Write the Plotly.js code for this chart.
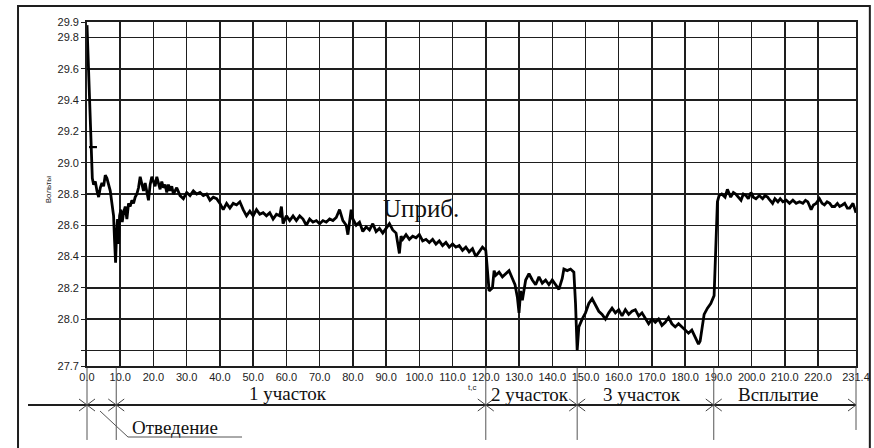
<!DOCTYPE html>
<html>
<head>
<meta charset="utf-8">
<script src="https://cdn.plot.ly/plotly-3.0.1.min.js"></script>
<style>
html,body{margin:0;padding:0;background:#fff;}
#chart{width:874px;height:448px;}
</style>
</head>
<body>
<div id="chart"></div>
<script>
// ---- data ----
const tSec = [
0,0.3,0.7,1.0,1.3,1.6,2.0,2.5,3.0,3.5,4.0,4.5,5.0,5.5,6.0,6.5,7.0,7.5,8.0,8.3,8.6,8.9,9.2,9.5,9.8,
10.2,10.6,11.0,11.5,12.0,12.5,13.0,13.5,14.0,14.5,15.0,15.5,16.0,16.5,17.0,17.5,18.0,18.5,19.0,19.5,
20.0,20.5,21.0,21.5,22.0,22.5,23.0,23.5,24.0,24.5,25.0,25.5,26.0,27,28,29,30,31,32,33,34,35,36,37,38,39,
40,41,42,43,44,45,46,47,48,49,50,51,52,53,54,55,56,57,58,58.5,59,60,61,62,63,64,65,66,67,68,69,
70,71,72,73,74,75,76,77,78,78.5,79,79.5,80,81,82,83,84,85,86,87,88,89,90,91,92,93,94,94.5,95,96,97,98,99,
100,101,102,103,104,105,106,107,108,109,110,111,112,113,114,115,116,117,118,119,120,120.5,121,122,122.5,
123,124,125,126,127,128,128.8,129.5,130,130.5,131,132,133,134,135,136,137,138,139,140,141,142,143,143.5,
144.5,145.5,146.5,147,147.5,148,149,150,151,152,153,154,155,156,157,158,159,160,161,162,163,164,165,166,
167,168,169,170,171,172,173,174,175,176,177,178,179,180,181,182,183,184,184.5,185,185.7,186.7,187.7,188.7,
189.2,189.7,190.2,191,192,192.7,193.7,194.5,195.2,196,196.8,197.5,198.3,199,199.8,200.5,201.3,202.3,203.3,
204,204.8,205.5,206.3,207,207.9,208.6,209.4,210.4,211.4,212.4,213.4,214.4,215.4,216.2,216.9,217.9,218.6,
219.4,220.4,221.2,221.9,222.7,223.5,224.2,225,225.8,226.5,227.3,228,228.8,229.5,230.5,231.4
];
const uVolt = [
29.88,29.70,29.50,29.30,29.05,28.90,28.86,28.88,28.82,28.78,28.84,28.87,28.85,28.92,28.90,28.86,28.82,28.74,28.66,28.50,28.36,28.55,28.64,28.48,28.66,
28.70,28.62,28.68,28.72,28.64,28.74,28.72,28.76,28.74,28.78,28.80,28.84,28.91,28.86,28.82,28.87,28.80,28.76,28.86,28.91,
28.88,28.85,28.91,28.87,28.83,28.88,28.84,28.86,28.81,28.86,28.82,28.85,28.80,28.84,28.79,28.77,28.81,28.79,28.82,28.80,28.81,28.79,28.80,28.76,28.78,28.77,
28.74,28.70,28.74,28.71,28.74,28.73,28.75,28.70,28.66,28.69,28.66,28.70,28.67,28.68,28.66,28.68,28.64,28.67,28.66,28.72,28.61,28.66,28.63,28.66,28.63,28.66,28.64,28.60,28.64,28.62,28.63,
28.61,28.63,28.62,28.64,28.63,28.65,28.70,28.63,28.60,28.54,28.62,28.70,28.64,28.60,28.62,28.56,28.59,28.57,28.61,28.56,28.58,28.55,28.58,28.61,28.57,28.55,28.42,28.53,28.51,28.54,28.51,28.53,28.52,
28.54,28.50,28.51,28.49,28.51,28.48,28.50,28.47,28.49,28.46,28.48,28.46,28.47,28.44,28.46,28.43,28.45,28.40,28.43,28.46,28.44,28.30,28.18,28.20,28.31,
28.28,28.30,28.27,28.29,28.31,28.26,28.22,28.14,28.04,28.18,28.12,28.25,28.29,28.25,28.22,28.27,28.23,28.25,28.22,28.25,28.22,28.19,28.26,28.32,
28.31,28.32,28.30,28.10,27.80,27.95,28.00,28.04,28.10,28.13,28.09,28.05,28.03,28.00,28.04,28.07,28.04,28.06,28.02,28.06,28.03,28.05,28.06,28.02,
28.04,28.00,27.97,28.00,27.98,28.00,27.96,27.98,28.01,27.97,27.95,27.97,27.95,27.93,27.91,27.93,27.88,27.84,27.86,27.93,28.03,28.07,28.10,28.15,
28.44,28.75,28.79,28.80,28.78,28.83,28.78,28.81,28.80,28.78,28.76,28.80,28.79,28.77,28.81,28.78,28.77,28.79,28.77,
28.79,28.78,28.76,28.74,28.77,28.75,28.77,28.75,28.76,28.74,28.76,28.74,28.75,28.74,28.76,28.75,28.70,28.73,
28.74,28.77,28.74,28.73,28.75,28.74,28.72,28.72,28.74,28.72,28.73,28.74,28.71,28.71,28.74,28.68
];
// short reference mark near 29.1 V
const markT = [0.6, 3.0];
const markU = [29.1, 29.1];

const xTickVals = [0,10,20,30,40,50,60,70,80,90,100,110,120,130,140,150,160,170,180,190,200,210,220,231.4];
const xTickText = ['0.0','10.0','20.0','30.0','40.0','50.0','60.0','70.0','80.0','90.0','100.0','110.0','120.0',
                   '130.0','140.0','150.0','160.0','170.0','180.0','190.0','200.0','210.0','220.0','231.4'];
const yTickVals = [27.7,27.8,28.0,28.2,28.4,28.6,28.8,29.0,29.2,29.4,29.6,29.8,29.9];
const yTickText = ['27.7','','28.0','28.2','28.4','28.6','28.8','29.0','29.2','29.4','29.6','29.8','29.9'];

const sectionBounds = [0, 8.8, 120, 147.5, 188.6, 231.4];
const sectionNames = ['Отведение','1 участок','2 участок','3 участок','Всплытие'];
const seriesLabel = 'Uприб.';
const yTitle = 'Вольты';
const xUnit = 't,c';

// ---- layout helpers ----
const X_MAX = 231.4;
const tp = t => t / X_MAX;            // data time -> paper x (range [0, X_MAX] on domain [0,1])
const ink = '#1e1e1e';
const serif = 'Liberation Serif, Times New Roman, serif';
const narrow = 'Liberation Sans Narrow, Arial Narrow, Liberation Sans, Arial, sans-serif';

const lineY = -0.1134, dx = 0.0104, dy = 0.0175;
const shapes = [];
// outer frame
shapes.push({type:'rect', xref:'paper', yref:'paper', x0:-0.0897, x1:1.018, y0:-0.27, y1:1.0465,
             line:{color:ink, width:2}});
// main horizontal dimension line
shapes.push({type:'line', xref:'paper', yref:'paper', x0:-0.0767, x1:tp(X_MAX), y0:lineY, y1:lineY,
             line:{color:ink, width:2}});
sectionBounds.forEach((b, i) => {
  const xb = tp(b);
  const last = i === sectionBounds.length - 1;
  shapes.push({type:'line', xref:'paper', yref:'paper', x0:xb, x1:xb, y0:-0.005, y1:last ? -0.186 : -0.215,
               line:{color:'#555', width:1}});
  // arrowhead coming from the left
  shapes.push({type:'path', xref:'paper', yref:'paper',
               path:`M${xb-dx},${lineY+dy} L${xb},${lineY} L${xb-dx},${lineY-dy}`,
               line:{color:'#444', width:1}});
  if (!last) {
    shapes.push({type:'path', xref:'paper', yref:'paper',
                 path:`M${xb+dx},${lineY+dy} L${xb},${lineY} L${xb+dx},${lineY-dy}`,
                 line:{color:'#444', width:1}});
  }
});
// leader line for the first section
shapes.push({type:'path', xref:'paper', yref:'paper',
             path:'M0.0169,-0.1308 L0.0533,-0.2064 L0.2016,-0.2064',
             line:{color:'#555', width:1}});

const labelPos = [
  {x:0.1144, y:-0.180},
  {x:0.262, y:-0.079},
  {x:0.576, y:-0.082},
  {x:0.7217, y:-0.082},
  {x:0.8986, y:-0.082}
];
const annotations = sectionNames.map((name, i) => ({
  text:name, xref:'paper', yref:'paper', x:labelPos[i].x, y:labelPos[i].y,
  showarrow:false, xanchor:'center', yanchor:'middle',
  font:{family:serif, size:19, color:'#111'}
}));
annotations.push({text:seriesLabel, xref:'x', yref:'y', x:100.5, y:28.71, showarrow:false,
  xanchor:'center', yanchor:'middle', font:{family:serif, size:25, color:'#111'}});
annotations.push({text:yTitle, xref:'paper', yref:'paper', x:-0.0507, y:0.511, showarrow:false,
  textangle:-90, xanchor:'center', yanchor:'middle', font:{family:narrow, size:8, color:'#222'}});
annotations.push({text:xUnit, xref:'paper', yref:'paper', x:0.5007, y:-0.062, showarrow:false,
  xanchor:'center', yanchor:'middle', font:{family:narrow, size:8, color:'#222'}});

const traces = [
  {x:tSec, y:uVolt, type:'scatter', mode:'lines', line:{color:'#000', width:2.8}, hoverinfo:'skip'},
  {x:markT, y:markU, type:'scatter', mode:'lines', line:{color:'#000', width:2.2}, hoverinfo:'skip'}
];

const layout = {
  width:874, height:448,
  margin:{l:87, r:18, t:22, b:82},
  paper_bgcolor:'#fff', plot_bgcolor:'#fff',
  showlegend:false,
  xaxis:{
    range:[0, X_MAX], tickvals:xTickVals, ticktext:xTickText, ticks:'',
    showgrid:true, gridcolor:ink, gridwidth:1.5, zeroline:false,
    showline:true, linecolor:ink, linewidth:1.8, mirror:true,
    tickfont:{family:narrow, size:11, color:'#222'}
  },
  yaxis:{
    range:[27.7, 29.9], tickvals:yTickVals, ticktext:yTickText, ticks:'outside', ticklen:4, tickcolor:ink,
    showgrid:true, gridcolor:ink, gridwidth:1.5, zeroline:false,
    showline:true, linecolor:ink, linewidth:1.8, mirror:true,
    tickfont:{family:narrow, size:11, color:'#222'}
  },
  shapes:shapes,
  annotations:annotations
};

Plotly.newPlot('chart', traces, layout, {staticPlot:true, displayModeBar:false});
</script>
</body>
</html>
